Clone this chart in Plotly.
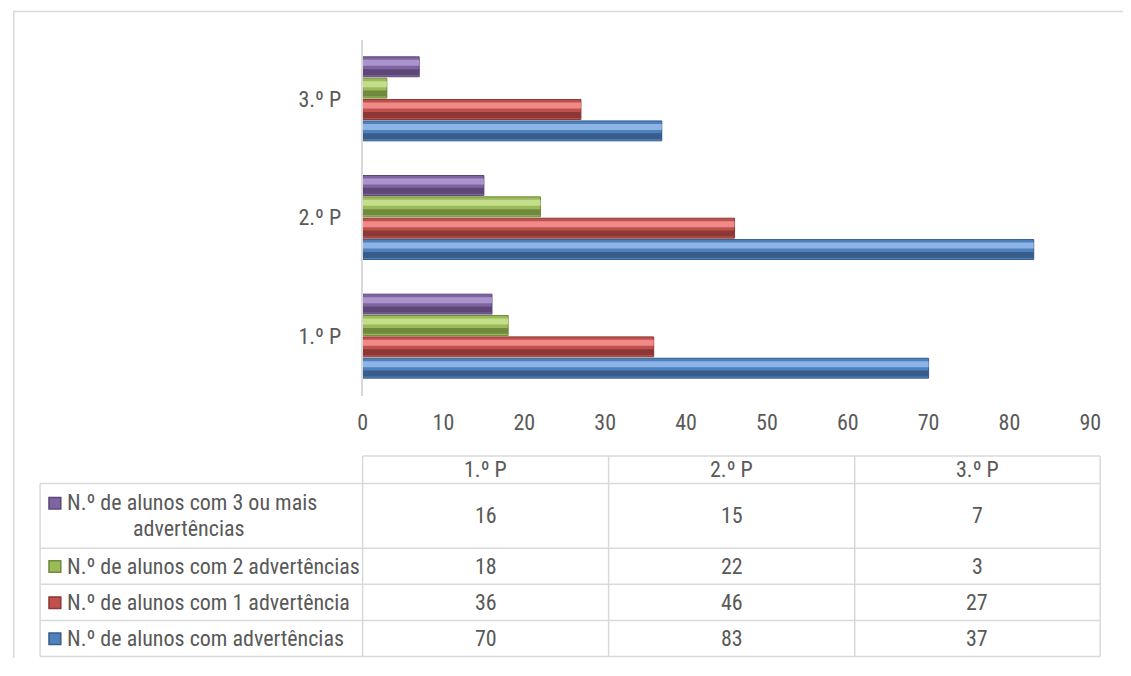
import plotly.graph_objects as go

# page size; browser body keeps its default 8px margin, figure kept inside the viewport
PAGE_W, PAGE_H = 1131, 676
MARGIN = 8
FW, FH = PAGE_W - 2 * MARGIN, 650

categories = ["1.º P", "2.º P", "3.º P"]
series_names = [
    "N.º de alunos com advertências",
    "N.º de alunos com 1 advertência",
    "N.º de alunos com 2 advertências",
    "N.º de alunos com 3 ou mais advertências",
]
vals_total = [70, 83, 37]
vals_one = [36, 46, 27]
vals_two = [18, 22, 3]
vals_three_plus = [16, 15, 7]
series_values = [vals_total, vals_one, vals_two, vals_three_plus]

base_colors = ["#4f81bd", "#c0504d", "#9bbb59", "#8064a2"]
light_colors = ["#8db4e6", "#f08a87", "#c4dd8a", "#ab94cc"]
dark_colors = ["#385d8a", "#8c3836", "#71893f", "#5c4776"]

x_ticks = [0, 10, 20, 30, 40, 50, 60, 70, 80, 90]

FONT = "Liberation Sans Narrow, Arial Narrow, Roboto Condensed, sans-serif"
TXT = "#595959"
GRID = "#d9d9d9"
FS = 22


def px(x):
    return (x - MARGIN) / FW


def py(y):
    return 1 - (y - MARGIN) / FH


fig = go.Figure()

slot = 0.18
bh = 0.168
for i, (name, vals) in enumerate(zip(series_names, series_values)):
    off = -0.36 + i * slot + 0.006
    fig.add_trace(go.Bar(
        y=categories, x=vals, orientation="h", name=name,
        offset=off, width=bh,
        marker=dict(color=base_colors[i], line=dict(color=dark_colors[i], width=1)),
        showlegend=False, hoverinfo="x+name",
    ))
    fig.add_trace(go.Bar(
        y=categories, x=vals, orientation="h", name=name,
        offset=off + bh * 0.55, width=bh * 0.3,
        marker=dict(color=light_colors[i], line=dict(width=0)),
        showlegend=False, hoverinfo="skip",
    ))
    fig.add_trace(go.Bar(
        y=categories, x=vals, orientation="h", name=name,
        offset=off + bh * 0.08, width=bh * 0.3,
        marker=dict(color=dark_colors[i], line=dict(width=0)),
        showlegend=False, hoverinfo="skip",
    ))

shapes = []
annotations = []

# outer border
shapes.append(dict(type="rect", xref="paper", yref="paper",
                   x0=px(8.75), x1=px(PAGE_W + 20), y0=py(11.5), y1=py(PAGE_H + 40),
                   line=dict(color=GRID, width=1.5)))

# table geometry (page pixels)
col_x = [362.7, 612.3, 862, 1111]
left_x = 35.5
header_top = 456
row_y = [483.5, 548.3, 584.3, 620.5, 656.5]

line_style = dict(color=GRID, width=1.5)
shapes.append(dict(type="line", xref="paper", yref="paper",
                   x0=px(col_x[0]), x1=px(col_x[-1]), y0=py(header_top), y1=py(header_top),
                   line=line_style))
for y in row_y:
    shapes.append(dict(type="line", xref="paper", yref="paper",
                       x0=px(left_x), x1=px(col_x[-1]), y0=py(y), y1=py(y),
                       line=line_style))
for x in col_x:
    shapes.append(dict(type="line", xref="paper", yref="paper",
                       x0=px(x), x1=px(x), y0=py(header_top), y1=py(row_y[-1]),
                       line=line_style))
shapes.append(dict(type="line", xref="paper", yref="paper",
                   x0=px(left_x), x1=px(left_x), y0=py(row_y[0]), y1=py(row_y[-1]),
                   line=line_style))

for j, cat in enumerate(categories):
    cx = (col_x[j] + col_x[j + 1]) / 2
    annotations.append(dict(x=px(cx), y=py((header_top + row_y[0]) / 2), xref="paper", yref="paper",
                            text=cat, showarrow=False, xanchor="center", yanchor="middle",
                            font=dict(family=FONT, size=FS, color=TXT)))

for r in range(4):
    s = 3 - r
    y0, y1 = row_y[r], row_y[r + 1]
    cy = (y0 + y1) / 2
    name = series_names[s]
    for j in range(3):
        cx = (col_x[j] + col_x[j + 1]) / 2
        annotations.append(dict(x=px(cx), y=py(cy), xref="paper", yref="paper",
                                text=str(series_values[s][j]), showarrow=False,
                                xanchor="center", yanchor="middle",
                                font=dict(family=FONT, size=FS, color=TXT)))
    if len(name) > 34:
        first, second = name.rsplit(" ", 1)
        line_ys = [cy - 13, cy + 13]
        annotations.append(dict(x=px(61), y=py(line_ys[0]), xref="paper", yref="paper",
                                text=first, showarrow=False, xanchor="left", yanchor="middle",
                                font=dict(family=FONT, size=FS, color=TXT)))
        annotations.append(dict(x=px(187), y=py(line_ys[1]), xref="paper", yref="paper",
                                text=second, showarrow=False, xanchor="center", yanchor="middle",
                                font=dict(family=FONT, size=FS, color=TXT)))
        icon_y = line_ys[0]
    else:
        annotations.append(dict(x=px(61), y=py(cy), xref="paper", yref="paper",
                                text=name, showarrow=False, xanchor="left", yanchor="middle",
                                font=dict(family=FONT, size=FS, color=TXT)))
        icon_y = cy
    shapes.append(dict(type="rect", xref="paper", yref="paper",
                       x0=px(44.5), x1=px(56.5), y0=py(icon_y - 5.5), y1=py(icon_y + 6),
                       fillcolor=base_colors[s], line=dict(color=dark_colors[s], width=1.5)))

fig.update_layout(
    width=FW, height=FH,
    margin=dict(l=0, r=0, t=0, b=0),
    paper_bgcolor="white", plot_bgcolor="white",
    barmode="overlay",
    font=dict(family=FONT, size=FS, color=TXT),
    xaxis=dict(domain=[px(362.7), px(1101)], range=[0, 90], tickvals=x_ticks,
               showgrid=False, zeroline=False, showline=False,
               ticks="outside", ticklen=7, tickcolor="rgba(0,0,0,0)",
               tickfont=dict(family=FONT, size=FS, color=TXT), fixedrange=True),
    yaxis=dict(domain=[py(395.5), py(39.5)], type="category",
               categoryorder="array", categoryarray=categories,
               showgrid=False, zeroline=False, showline=True, linecolor=GRID, linewidth=2,
               ticks="outside", ticklen=15, tickcolor="rgba(0,0,0,0)",
               tickfont=dict(family=FONT, size=FS, color=TXT), fixedrange=True),
    shapes=shapes,
    annotations=annotations,
    showlegend=False,
)

fig.write_html("out.html", config={"displayModeBar": False})
